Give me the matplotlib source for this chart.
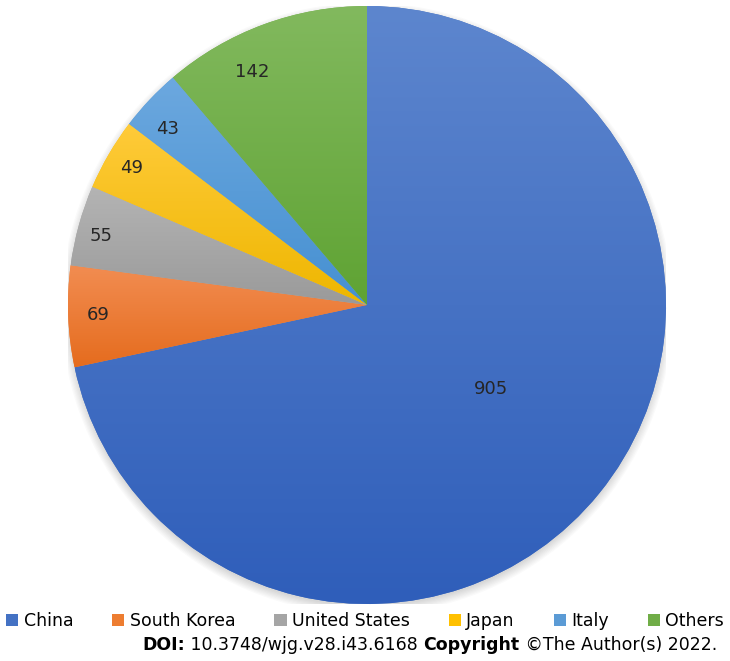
import numpy as np
import matplotlib
matplotlib.use("Agg")
import matplotlib.pyplot as plt
from matplotlib.patches import Patch, Circle
from matplotlib.colors import LinearSegmentedColormap

countries = ["China", "South Korea", "United States", "Japan", "Italy", "Others"]
counts = [905, 69, 55, 49, 43, 142]

# (top, bottom) colours of the gradient fill for each slice
top_colors = ["#5D86CE", "#F28D52", "#B4B4B4", "#FFCB3A", "#6CA8DF", "#82B95E"]
bottom_colors = ["#2F5EBA", "#E56C1E", "#9A9A9A", "#EEB600", "#4690D1", "#5FA333"]
legend_colors = ["#4472C4", "#ED7D31", "#A5A5A5", "#FFC000", "#5B9BD5", "#70AD47"]
# label placement: radius and angle shift from the slice middle (deg)
label_r = [0.5, 0.9, 0.92, 0.91, 0.89, 0.87]
label_dang = [5, 0, 1, 0, 2, 6]

W, H = 730, 661
cx, cy, R = 367, 305, 299

fig = plt.figure(figsize=(W / 100, H / 100), dpi=100)
ax = fig.add_axes([(cx - R) / W, (H - cy - R) / H, 2 * R / W, 2 * R / H])

# soft shadow under the pie
for i in range(8):
    ax.add_patch(Circle((0.0, -0.012), 0.995 + 0.004 * i, color="black",
                        alpha=0.02, lw=0, zorder=0))

wedges, _ = ax.pie(counts, colors=legend_colors, startangle=90, counterclock=False,
                   wedgeprops=dict(linewidth=0))

grad = np.linspace(0, 1, 256).reshape(-1, 1)
for w, top, bot in zip(wedges, top_colors, bottom_colors):
    ext = w.get_path().get_extents()
    cmap = LinearSegmentedColormap.from_list("g", [bot, top])
    im = ax.imshow(grad, cmap=cmap, origin="lower", aspect="auto",
                   extent=[ext.x0, ext.x1, ext.y0, ext.y1], zorder=2,
                   interpolation="bilinear")
    im.set_clip_path(w)

for w, v, r, da in zip(wedges, counts, label_r, label_dang):
    ang = np.deg2rad((w.theta1 + w.theta2) / 2 + da)
    ax.text(r * np.cos(ang), r * np.sin(ang), str(v), ha="center", va="center",
            fontsize=13, color="#262626", zorder=3)

ax.set_xlim(-1, 1)
ax.set_ylim(-1, 1)
ax.axis("off")

handles = [Patch(facecolor=c, edgecolor="none") for c in legend_colors]
fig.legend(handles, countries, loc="center", bbox_to_anchor=(0.5, 1 - 621 / H),
           ncol=6, frameon=False, handlelength=0.7, handleheight=0.7,
           handletextpad=0.3, columnspacing=2.25, fontsize=12.5, borderaxespad=0,
           borderpad=0)

# footer with bold pieces, laid out right to left
pieces = [("DOI:", "bold"), (" 10.3748/wjg.v28.i43.6168 ", "normal"),
          ("Copyright", "bold"), (" ©The Author(s) 2022.", "normal")]
renderer = fig.canvas.get_renderer()
x = 717
y = 1 - 645 / H
for txt, wt in reversed(pieces):
    t = fig.text(x / W, y, txt, ha="right", va="center", fontsize=12.5,
                 fontweight=wt, color="black")
    bb = t.get_window_extent(renderer)
    x -= bb.width

fig.savefig("out.png", dpi=100)
